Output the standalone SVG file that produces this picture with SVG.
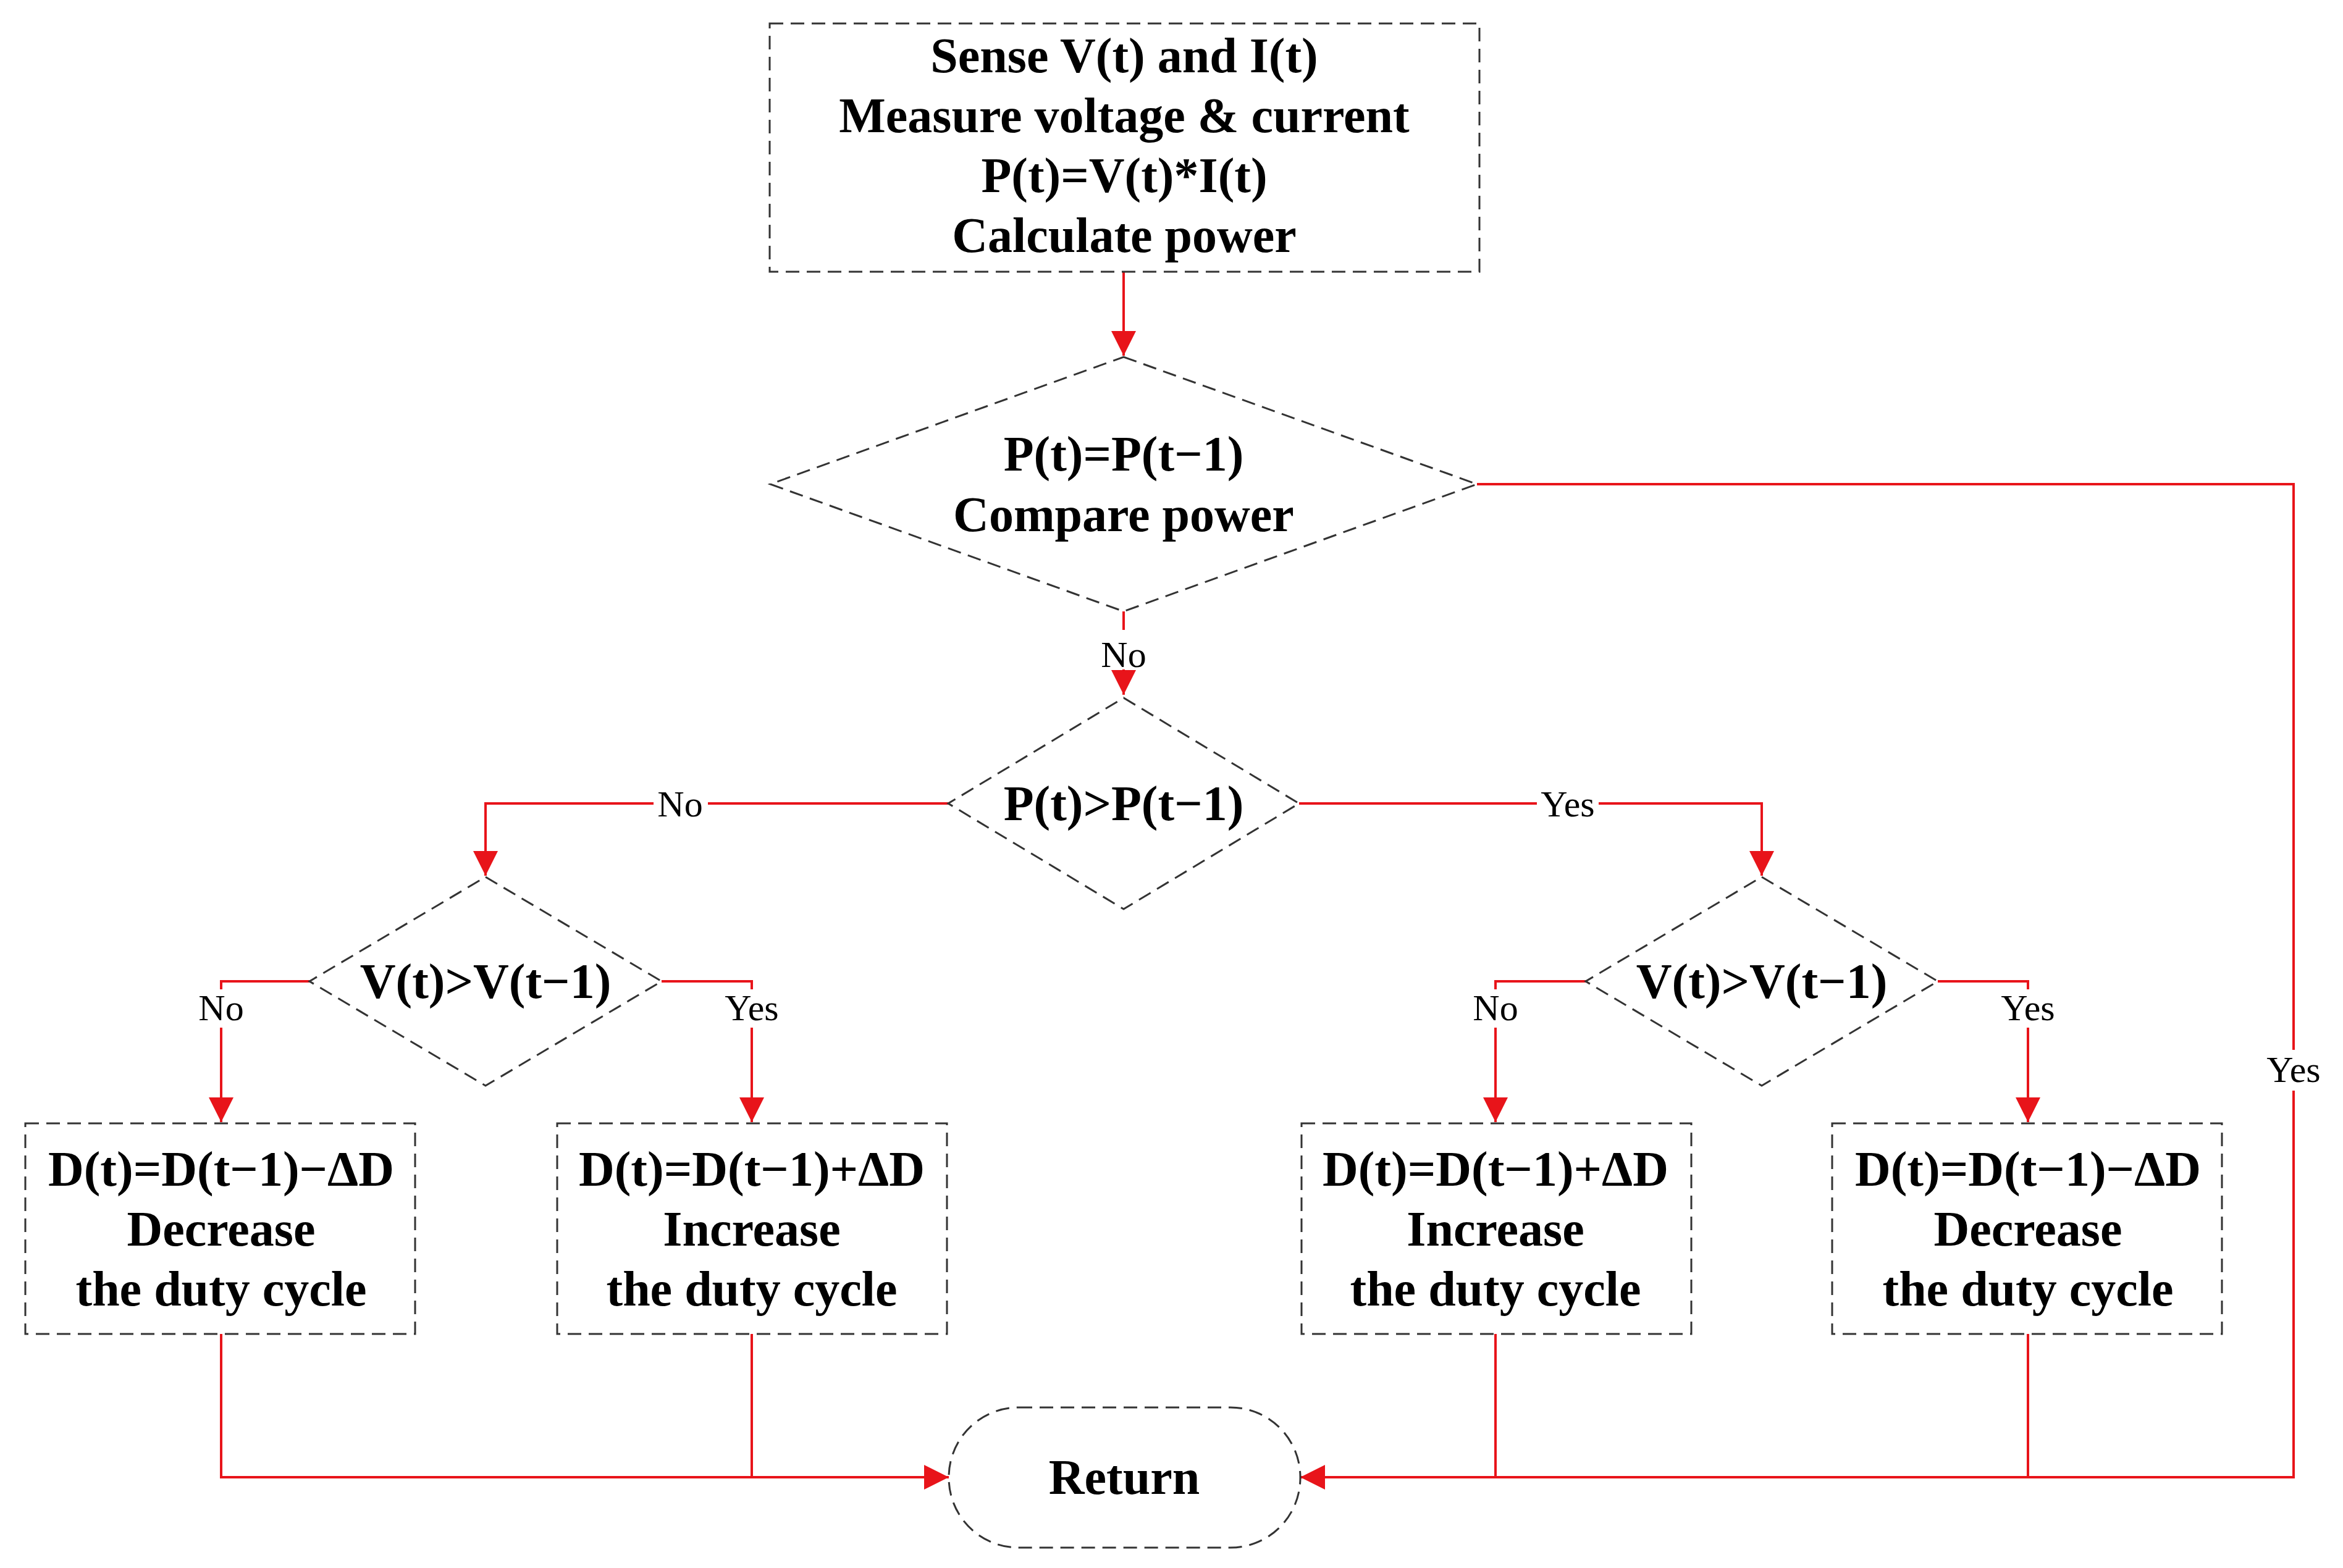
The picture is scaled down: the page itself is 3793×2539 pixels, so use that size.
<svg xmlns="http://www.w3.org/2000/svg" width="3793" height="2539" viewBox="0 0 3793 2539">
<style>
.n{fill:#fff;stroke:#333;stroke-width:3;stroke-dasharray:22 12}
.t{font-family:"Liberation Serif",serif;font-weight:bold;font-size:80px;text-anchor:middle;fill:#000}
.l{font-family:"Liberation Serif",serif;font-size:60px;text-anchor:middle;fill:#000}
.c{fill:none;stroke:#e8141a;stroke-width:4}
</style>
<defs>
<marker id="A" viewBox="0 0 10 10" refX="10" refY="5" markerWidth="48" markerHeight="40" markerUnits="userSpaceOnUse" orient="auto"><path d="M0,0L10,5L0,10z" fill="#e8141a"/></marker></defs>
<rect width="3793" height="2539" fill="#fff"/>
<g id="connectors">
<path class="c" d="M1819 440V576" marker-end="url(#A)"/>
<path class="c" d="M1819 990V1125" marker-end="url(#A)"/>
<path class="c" d="M1535 1301H786V1418" marker-end="url(#A)"/>
<path class="c" d="M2103 1301H2852V1418" marker-end="url(#A)"/>
<path class="c" d="M501 1589H358V1817" marker-end="url(#A)"/>
<path class="c" d="M1071 1589H1217V1817" marker-end="url(#A)"/>
<path class="c" d="M2567 1589H2421V1817" marker-end="url(#A)"/>
<path class="c" d="M3137 1589H3283V1817" marker-end="url(#A)"/>
<path class="c" d="M358 2160V2392H1536" marker-end="url(#A)"/>
<path class="c" d="M1217 2160V2392"/>
<path class="c" d="M2391 784H3713V2392H2105" marker-end="url(#A)"/>
<path class="c" d="M2421 2160V2392"/>
<path class="c" d="M3283 2160V2392"/>
<g class="l">
<rect x="1778" y="1020" width="82" height="64" fill="#fff"/><text x="1819" y="1080">No</text>
<rect x="1058" y="1270" width="88" height="64" fill="#fff"/><text x="1101" y="1322">No</text>
<rect x="2488" y="1270" width="100" height="64" fill="#fff"/><text x="2538" y="1322">Yes</text>
<rect x="316" y="1602" width="84" height="62" fill="#fff"/><text x="358" y="1652">No</text>
<rect x="1167" y="1602" width="100" height="62" fill="#fff"/><text x="1217" y="1652">Yes</text>
<rect x="2379" y="1602" width="84" height="62" fill="#fff"/><text x="2421" y="1652">No</text>
<rect x="3233" y="1602" width="100" height="62" fill="#fff"/><text x="3283" y="1652">Yes</text>
<rect x="3663" y="1700" width="100" height="66" fill="#fff"/><text x="3713" y="1752">Yes</text>
</g>
</g>
<g id="sense"><rect class="n" x="1246" y="38" width="1149" height="402"/>
<text class="t" x="1820" y="117">Sense V(t) and I(t)</text><text class="t" x="1820" y="214">Measure voltage &amp; current</text><text class="t" x="1820" y="311">P(t)=V(t)*I(t)</text><text class="t" x="1820" y="408">Calculate power</text></g>
<g id="d1"><path class="n" d="M1819 578L2391 784L1819 990L1247 784Z"/>
<text class="t" x="1819" y="762">P(t)=P(t−1)</text><text class="t" x="1819" y="860">Compare power</text></g>
<g id="d2"><path class="n" d="M1819 1130L2103 1301L1819 1472L1535 1301Z"/><text class="t" x="1819" y="1328">P(t)&gt;P(t−1)</text></g>
<g id="d3"><path class="n" d="M786 1420L1071 1589L786 1758L501 1589Z"/><text class="t" x="786" y="1616">V(t)&gt;V(t−1)</text></g>
<g id="d4"><path class="n" d="M2852 1420L3137 1589L2852 1758L2567 1589Z"/><text class="t" x="2852" y="1616">V(t)&gt;V(t−1)</text></g>
<g id="b1"><rect class="n" x="41" y="1819" width="631" height="341"/><text class="t" x="358" y="1920">D(t)=D(t−1)−ΔD</text><text class="t" x="358" y="2017">Decrease</text><text class="t" x="358" y="2114">the duty cycle</text></g>
<g id="b2"><rect class="n" x="902" y="1819" width="631" height="341"/><text class="t" x="1217" y="1920">D(t)=D(t−1)+ΔD</text><text class="t" x="1217" y="2017">Increase</text><text class="t" x="1217" y="2114">the duty cycle</text></g>
<g id="b3"><rect class="n" x="2107" y="1819" width="631" height="341"/><text class="t" x="2421" y="1920">D(t)=D(t−1)+ΔD</text><text class="t" x="2421" y="2017">Increase</text><text class="t" x="2421" y="2114">the duty cycle</text></g>
<g id="b4"><rect class="n" x="2966" y="1819" width="631" height="341"/><text class="t" x="3283" y="1920">D(t)=D(t−1)−ΔD</text><text class="t" x="3283" y="2017">Decrease</text><text class="t" x="3283" y="2114">the duty cycle</text></g>
<g id="ret"><rect class="n" x="1536" y="2279" width="569" height="227" rx="113"/><text class="t" x="1820" y="2419">Return</text></g>
</svg>
